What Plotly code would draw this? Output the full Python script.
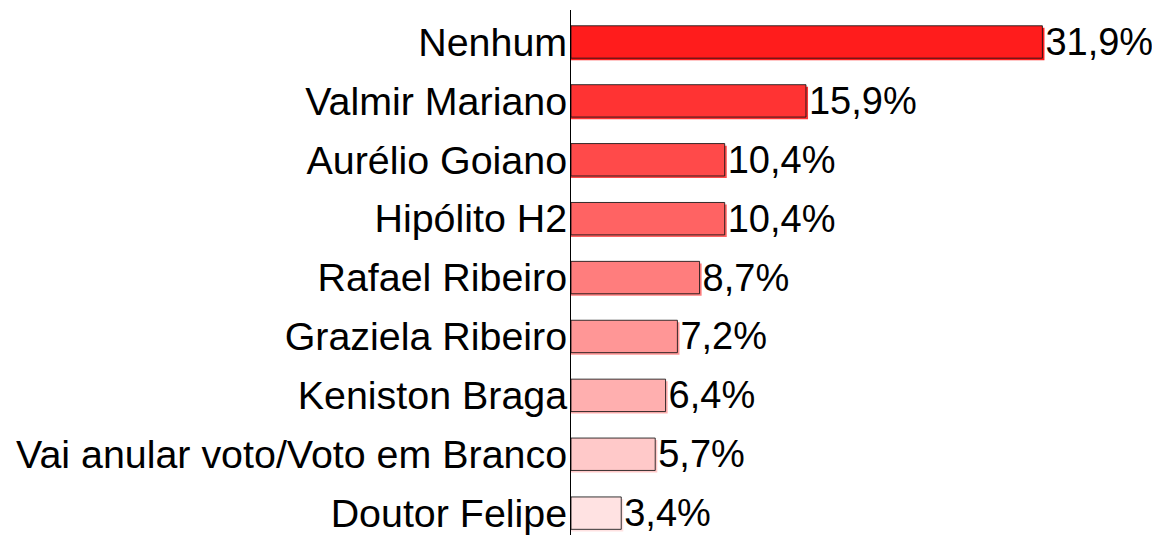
import plotly.graph_objects as go

categories = ["Nenhum", "Valmir Mariano", "Aurélio Goiano", "Hipólito H2", "Rafael Ribeiro",
              "Graziela Ribeiro", "Keniston Braga", "Vai anular voto/Voto em Branco", "Doutor Felipe"]
values = [31.9, 15.9, 10.4, 10.4, 8.7, 7.2, 6.4, 5.7, 3.4]
labels = ["31,9%", "15,9%", "10,4%", "10,4%", "8,7%", "7,2%", "6,4%", "5,7%", "3,4%"]
colors = ["#ff1c1c", "#ff3333", "#ff4a4a", "#ff6363", "#ff7d7d",
          "#ff9696", "#ffafaf", "#ffc9c9", "#ffe2e2"]

FONT = "Liberation Sans, Arial, sans-serif"
FS = 39.4
FS_LABEL = 38
bar_w = 0.55

fig = go.Figure()
# shadow
fig.add_trace(go.Bar(
    y=categories, x=[v + 0.14 for v in values], orientation="h",
    width=bar_w, offset=-bar_w / 2 + 0.035,
    marker=dict(color=colors, line=dict(width=0)),
    hoverinfo="skip", showlegend=False,
))
# main bars
fig.add_trace(go.Bar(
    y=categories, x=values, orientation="h",
    width=bar_w, offset=-bar_w / 2,
    marker=dict(color=colors, line=dict(color="rgba(20,20,20,0.85)", width=1)),
    text=labels, textposition="outside", cliponaxis=False, constraintext="none",
    textfont=dict(family=FONT, size=FS_LABEL, color="black"),
    showlegend=False,
))

fig.update_layout(
    width=1160, height=535,
    barmode="overlay",
    margin=dict(l=563, r=0, t=2, b=0, autoexpand=False),
    paper_bgcolor="white", plot_bgcolor="white",
    font=dict(family=FONT, size=FS, color="black"),
)
fig.update_xaxes(range=[0, 40.4], visible=False, showgrid=False, zeroline=False, automargin=False)
fig.update_yaxes(
    categoryorder="array", categoryarray=categories,
    range=[8.507, -0.543],
    showline=True, linecolor="black", linewidth=1,
    showgrid=False, zeroline=False, ticks="", automargin=False,
    tickfont=dict(family=FONT, size=FS, color="black"),
    ticklabelstandoff=-5,
)

fig.write_html("out.html")
